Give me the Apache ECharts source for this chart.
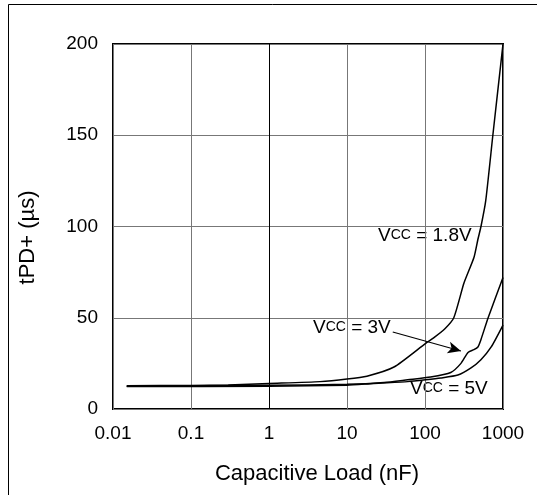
<!DOCTYPE html>
<html>
<head>
<meta charset="utf-8">
<script src="https://cdn.jsdelivr.net/npm/echarts@6/dist/echarts.min.js"></script>
<style>html,body{margin:0;padding:0;background:#fff}#c{width:537px;height:495px}</style>
</head>
<body>
<div id="c"></div>
<script>
const xTicks = [0.01, 0.1, 1, 10, 100, 1000];
const yTicks = [0, 50, 100, 150, 200];
const vcc18 = [[0.015,12.8],[0.1,12.9],[0.3,13.2],[1,14],[4.5,15],[10,16.4],[18,18],[40,23],[102,36],[129,39],[180,44],[234,50],[316,69],[424,83],[477,93],[522,100],[600,114],[741,150],[1000,200]];
const vcc3 = [[0.015,12.5],[1,13],[10,13.5],[30,14.5],[60,16],[118,17.5],[214,20],[289,25],[356,31],[424,32.5],[477,34],[521,38],[645,50],[1000,72]];
const vcc5 = [[0.015,12.3],[1,12.5],[10,13],[22,14],[60,15],[102,16],[160,17],[264,18.6],[389,22.5],[521,27],[706,34],[1000,46]];
const arrowFrom = [38.6, 42.2];
const arrowTo = [289, 31.8];

const chart = echarts.init(document.getElementById('c'), null, {renderer:'canvas'});
const F = 'Liberation Sans, Arial, sans-serif';
const lineS = (d) => ({type:'line', data:d, showSymbol:false, smooth:0.2, lineStyle:{color:'#000', width:1.5}, z:5});
const rich = {v:{fontFamily:F, fontSize:19, color:'#000'}, s:{fontFamily:F, fontSize:14, color:'#000'}};
chart.setOption({
  animation:false,
  grid:{left:113, top:44, right:34, bottom:86, show:true, borderColor:'#000', borderWidth:2, backgroundColor:'transparent'},
  xAxis:{type:'log', logBase:10, min:xTicks[0], max:xTicks[xTicks.length-1],
    name:'Capacitive Load (nF)', nameLocation:'middle', nameGap:54,
    nameTextStyle:{fontFamily:F, fontSize:22, color:'#000', padding:[0,0,0,18]},
    axisLine:{show:false}, axisTick:{show:false},
    axisLabel:{fontFamily:F, fontSize:19, color:'#000', margin:15, formatter:(v)=>String(v)},
    splitLine:{show:true, lineStyle:{color:['#777','#777','#000','#777','#777','#777'], width:1}}},
  yAxis:{type:'value', min:yTicks[0], max:yTicks[yTicks.length-1], interval:50,
    name:'tPD+ (µs)', nameLocation:'middle', nameGap:74,
    nameTextStyle:{fontFamily:F, fontSize:22, color:'#000', padding:[0,22,0,0]},
    axisLine:{show:false}, axisTick:{show:false},
    axisLabel:{fontFamily:F, fontSize:19, color:'#000', margin:15},
    splitLine:{show:true, lineStyle:{color:'#777', width:1}}},
  series:[
    lineS(vcc18),
    Object.assign(lineS(vcc3), {markLine:{silent:true, symbol:['none','arrow'], symbolSize:[9,13], label:{show:false},
      lineStyle:{color:'#000', width:1.2, type:'solid'},
      data:[[{coord:arrowFrom},{coord:arrowTo}]]}}),
    lineS(vcc5)
  ],
  graphic:[
    {type:'polyline', shape:{points:[[8.5,495],[8.5,4.5],[537,4.5]]}, style:{stroke:'#000', lineWidth:1, fill:null}},
    {type:'text', left:378, top:226, style:{text:'{v|V}{s|CC}{v| = 1.8V}', rich:rich}},
    {type:'text', left:313, top:318, style:{text:'{v|V}{s|CC}{v| = 3V}', rich:rich}},
    {type:'text', left:410, top:379, style:{text:'{v|V}{s|CC}{v| = 5V}', rich:rich}}
  ]
});
</script>
</body>
</html>
